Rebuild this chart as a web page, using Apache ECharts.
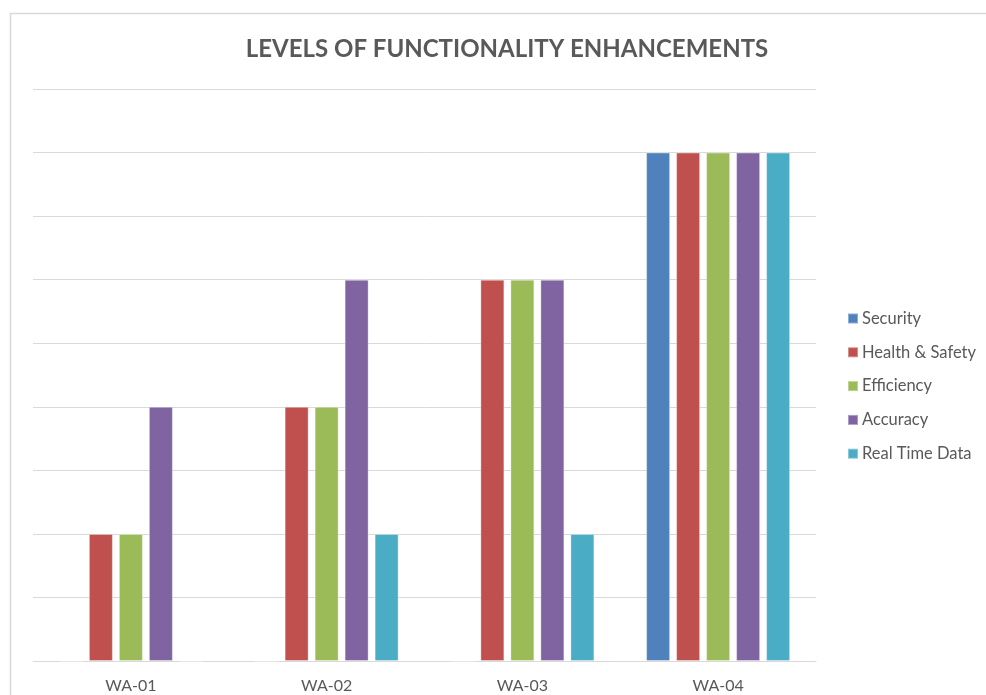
<!DOCTYPE html>
<html>
<head>
<meta charset="utf-8">
<script src="https://cdn.jsdelivr.net/npm/echarts@6/dist/echarts.min.js"></script>
<style>
html,body{margin:0;padding:0;background:#fff;}
#chart{width:986px;height:695px;}
</style>
</head>
<body>
<div id="chart"></div>
<script>
const categories = ['WA-01', 'WA-02', 'WA-03', 'WA-04'];
const seriesNames = ['Security', 'Health & Safety', 'Efficiency', 'Accuracy', 'Real Time Data'];
const security = [0, 0, 0, 8];
const healthSafety = [2, 4, 6, 8];
const efficiency = [2, 4, 6, 8];
const accuracy = [4, 6, 6, 8];
const realTimeData = [0, 2, 2, 8];
const colors = ['#4F81BD', '#C0504D', '#9BBB59', '#8064A2', '#4BACC6'];

const values = [security, healthSafety, efficiency, accuracy, realTimeData];
const font = 'Lato, "Open Sans", sans-serif';

const chart = echarts.init(document.getElementById('chart'), null, {renderer: 'canvas'});
chart.setOption({
  animation: false,
  backgroundColor: '#fff',
  title: {
    text: 'LEVELS OF FUNCTIONALITY ENHANCEMENTS',
    left: 502,
    textAlign: 'center',
    top: 32,
    textStyle: {color: '#595959', fontSize: 24, fontWeight: 'bold', fontFamily: font}
  },
  graphic: [{
    type: 'rect',
    shape: {x: 10.5, y: 13.5, width: 1000, height: 700},
    style: {fill: 'none', stroke: '#d9d9d9', lineWidth: 1.5},
    silent: true
  }],
  legend: {
    orient: 'vertical',
    left: 842,
    top: 305,
    itemWidth: 10,
    itemHeight: 10,
    itemGap: 16.8,
    icon: 'rect',
    data: seriesNames,
    textStyle: {color: '#595959', fontSize: 16.5, fontFamily: font, padding: [0, 0, 0, -1]}
  },
  grid: {left: 33, right: 170, top: 89, bottom: 34, containLabel: false},
  xAxis: {
    type: 'category',
    data: categories,
    axisLine: {show: true, lineStyle: {color: '#d9d9d9', width: 1}},
    axisTick: {show: false},
    axisLabel: {color: '#595959', fontSize: 16, fontFamily: font, margin: 17}
  },
  yAxis: {
    type: 'value',
    min: 0,
    max: 9,
    interval: 1,
    axisLine: {show: false},
    axisTick: {show: false},
    axisLabel: {show: false},
    splitLine: {lineStyle: {color: '#d9d9d9', width: 1}}
  },
  series: seriesNames.map((name, i) => ({
    name: name,
    type: 'bar',
    data: values[i],
    barWidth: 24,
    barGap: '25%',
    itemStyle: {color: colors[i], borderColor: 'rgba(255,255,255,0.35)', borderWidth: 1}
  }))
});
</script>
</body>
</html>
